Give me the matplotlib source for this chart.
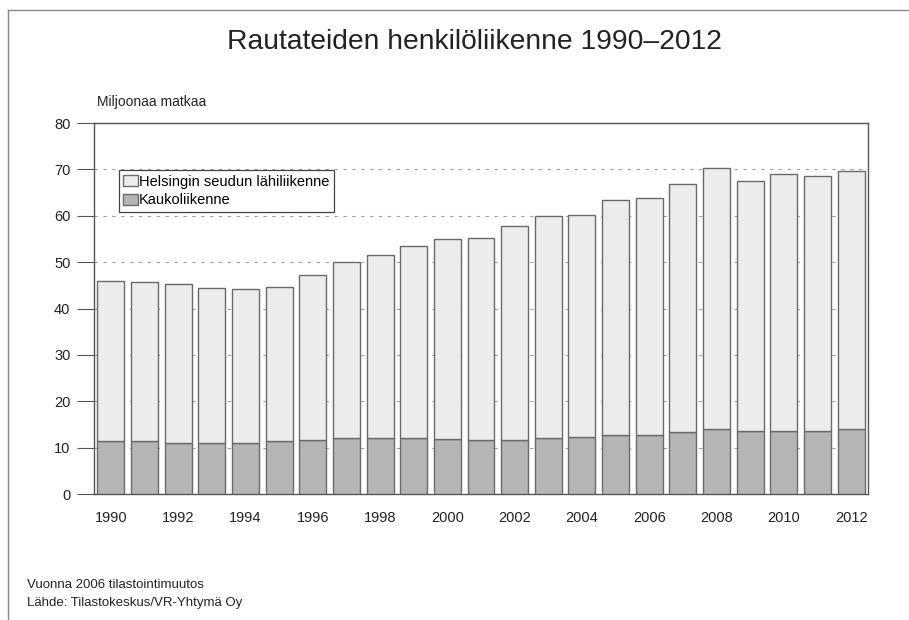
#!/usr/bin/env python3
"""Rautateiden henkilöliikenne 1990-2012, stacked bars."""

import matplotlib
matplotlib.use("Agg")
import matplotlib.pyplot as plt
from matplotlib.lines import Line2D

plt.rcParams["font.family"] = ["Liberation Sans", "DejaVu Sans"]

YEARS = list(range(1990, 2013))
KAUKO = [11.4, 11.4, 11.1, 10.9, 10.9, 11.4, 11.6, 12.1, 12.1, 12.0, 11.9, 11.7,
         11.7, 12.1, 12.3, 12.7, 12.8, 13.3, 14.0, 13.5, 13.6, 13.6, 14.0]
TOTAL = [46.0, 45.8, 45.2, 44.4, 44.2, 44.6, 47.2, 50.0, 51.5, 53.4, 55.0, 55.1,
         57.7, 60.0, 60.2, 63.5, 63.8, 66.8, 70.2, 67.6, 69.1, 68.5, 69.6]
LAHI = [t - k for t, k in zip(TOTAL, KAUKO)]

LABELS = ["Helsingin seudun lähiliikenne", "Kaukoliikenne"]
XTICKS = list(range(1990, 2013, 2))
YTICKS = list(range(0, 81, 10))

EDGE = "#6a6a6a"


def main() -> None:
    fig = plt.figure(figsize=(9.09, 6.2), dpi=100)
    ax = fig.add_axes([0.1034, 0.2032, 0.8515, 0.5984])

    ax.bar(YEARS, KAUKO, width=0.8, color="#b5b5b5", edgecolor=EDGE,
           linewidth=1.0, label=LABELS[1], zorder=3)
    ax.bar(YEARS, LAHI, bottom=KAUKO, width=0.8, color="#ececec",
           edgecolor=EDGE, linewidth=1.0, label=LABELS[0], zorder=3)

    ax.set_xlim(1989.5, 2012.5)
    ax.set_ylim(0, 80)
    ax.set_yticks(YTICKS)
    ax.set_xticks(XTICKS)
    ax.tick_params(axis="y", direction="out", length=12, width=0.8,
                   color="#555555", labelsize=10.5, pad=5)
    ax.tick_params(axis="x", length=0, labelsize=10.5, pad=12)
    for lbl in ax.get_xticklabels() + ax.get_yticklabels():
        lbl.set_color("#222222")

    for y in YTICKS[1:-1]:
        ax.axhline(y, color="#a0a0a0", linewidth=0.8, linestyle=(0, (3, 5)),
                   zorder=1)

    for side in ["left", "right", "top", "bottom"]:
        ax.spines[side].set_color("#555555")
        ax.spines[side].set_linewidth(1.0)

    handles, labels = ax.get_legend_handles_labels()
    leg = ax.legend(handles[::-1], labels[::-1], loc="upper left",
                    bbox_to_anchor=(0.032, 0.872), fontsize=10.5,
                    frameon=True, fancybox=False, edgecolor="#444444",
                    framealpha=1, borderpad=0.3, labelspacing=0.3,
                    handlelength=1.0, handleheight=0.8, handletextpad=0.1,
                    borderaxespad=0)
    leg.get_frame().set_linewidth(0.9)
    leg.set_zorder(5)

    fig.text(0.522, 0.932, "Rautateiden henkilöliikenne 1990–2012",
             ha="center", va="center", fontsize=20.3, color="#222222")
    fig.text(0.107, 0.836, "Miljoonaa matkaa", ha="left", va="center",
             fontsize=10, color="#222222")
    fig.text(0.030, 0.056, "Vuonna 2006 tilastointimuutos", ha="left",
             va="center", fontsize=9.5, color="#222222")
    fig.text(0.030, 0.027, "Lähde: Tilastokeskus/VR-Yhtymä Oy", ha="left",
             va="center", fontsize=9.5, color="#222222")

    # outer frame (top and left edges of the scanned page box)
    fig.add_artist(Line2D([0.0088, 0.0088], [0.0, 0.984], color="#888888",
                          linewidth=1.0, transform=fig.transFigure))
    fig.add_artist(Line2D([0.0088, 1.0], [0.984, 0.984], color="#888888",
                          linewidth=1.0, transform=fig.transFigure))

    fig.savefig("out.png", dpi=100)
    plt.close(fig)


if __name__ == "__main__":
    main()
